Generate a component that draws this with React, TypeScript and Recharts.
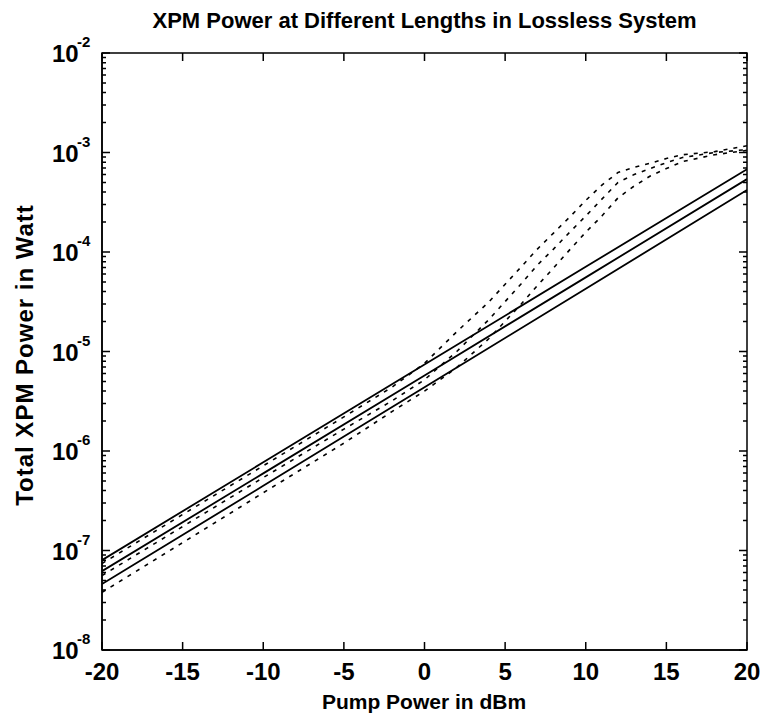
import { LineChart, Line, XAxis, YAxis, ReferenceArea } from "recharts";

// solid curves (straight on log axis), sampled every 10 dBm
const solidX = [-20, -10, 0, 10, 20];
const solidA = [8.0e-8, 7.7e-7, 7.4e-6, 7.1e-5, 6.8e-4];
const solidB = [6.2e-8, 5.96e-7, 5.75e-6, 5.56e-5, 5.4e-4];
const solidC = [4.6e-8, 4.47e-7, 4.37e-6, 4.27e-5, 4.2e-4];

// dashed curves
const dashX = [-20, -15, -10, -5, -2, 0, 2, 4, 6, 7, 8, 9, 10, 11, 12, 13, 14, 15, 16, 18, 20];
const dashA = [7.4e-8, 2.3e-7, 7.1e-7, 2.2e-6, 4.4e-6, 7.6e-6, 1.58e-5, 3.16e-5, 7.1e-5, 1.07e-4, 1.55e-4, 2.24e-4, 3.3e-4, 4.7e-4, 6.3e-4, 7.1e-4, 7.8e-4, 8.7e-4, 9.5e-4, 1.02e-3, 1.17e-3];
const dashB = [5.6e-8, 1.74e-7, 5.4e-7, 1.66e-6, 3.2e-6, 5.2e-6, 1.0e-5, 2.1e-5, 4.8e-5, 7.4e-5, 1.07e-4, 1.58e-4, 2.3e-4, 3.4e-4, 5.0e-4, 6.0e-4, 6.9e-4, 7.9e-4, 8.9e-4, 1.0e-3, 1.07e-3];
const dashC = [3.8e-8, 1.2e-7, 3.8e-7, 1.2e-6, 2.5e-6, 4.0e-6, 6.9e-6, 1.35e-5, 3.0e-5, 4.6e-5, 6.9e-5, 1.05e-4, 1.58e-4, 2.3e-4, 3.5e-4, 4.6e-4, 5.8e-4, 6.9e-4, 8.1e-4, 9.5e-4, 1.05e-3];

const xTicks = [-20, -15, -10, -5, 0, 5, 10, 15, 20];
const yMajor = [1e-8, 1e-7, 1e-6, 1e-5, 1e-4, 1e-3, 1e-2];
const yExp = ["-8", "-7", "-6", "-5", "-4", "-3", "-2"];

const title = "XPM Power at Different Lengths in Lossless System";
const xLabel = "Pump Power in dBm";
const yLabel = "Total XPM Power in Watt";

const rows = (xs: number[], ys: number[]) => xs.map((x, i) => ({ x, y: ys[i] }));

// minor log ticks 2..9 in each decade
const yTicks: number[] = [];
yMajor.forEach((m, i) => {
  yTicks.push(m);
  if (i < yMajor.length - 1) for (let k = 2; k <= 9; k++) yTicks.push(m * k);
});

const FONT = "'Liberation Sans', Arial, sans-serif";
const W = 761;
const H = 724;
const PLOT_W = 645;
const PLOT_H = 597;

const majorIndex = (v: number) => yMajor.findIndex((m) => Math.abs(v / m - 1) < 1e-6);

// ticks point inward on both sides, like a boxed matlab axis
function LeftTick(props: any) {
  const { x, y, payload } = props;
  const idx = majorIndex(payload.value);
  const major = idx >= 0;
  const len = major ? 8 : 4;
  return (
    <g>
      <path d={`M${x},${y}h${len}M${x + PLOT_W},${y}h${-len}`} stroke="#000" strokeWidth={1.5} fill="none" />
      {major && (
        <text fontFamily={FONT} fontWeight="bold" fill="#000" stroke="none">
          <tspan x={x - 50} y={y + 9} fontSize={24}>10</tspan>
          <tspan x={x - 25} y={y - 6} fontSize={15}>{yExp[idx]}</tspan>
        </text>
      )}
    </g>
  );
}

function BottomTick(props: any) {
  const { x, y, payload } = props;
  return (
    <g>
      <path d={`M${x},${y}v-8M${x},${y - PLOT_H}v8`} stroke="#000" strokeWidth={1.5} fill="none" />
      <text x={x} y={y + 30} textAnchor="middle" fontFamily={FONT} fontWeight="bold" fontSize={24} fill="#000" stroke="none">
        {String(payload.value)}
      </text>
    </g>
  );
}

const textStyle: React.CSSProperties = {
  position: "absolute",
  fontFamily: FONT,
  fontWeight: "bold",
  color: "#000",
  textAlign: "center",
  whiteSpace: "nowrap",
};

export default function App() {
  const axisLine = { stroke: "#000", strokeWidth: 1.5 };
  return (
    <div style={{ position: "absolute", left: 0, top: 0, width: W, height: H, background: "#fff", overflow: "hidden" }}>
      <div style={{ ...textStyle, left: 102, width: PLOT_W, top: 8, fontSize: 22, lineHeight: "26px" }}>{title}</div>
      <div
        style={{
          ...textStyle,
          left: 25 - 200,
          top: 355 - 14,
          width: 400,
          height: 28,
          fontSize: 24,
          lineHeight: "28px",
          letterSpacing: 1,
          transform: "rotate(-90deg)",
        }}
      >
        {yLabel}
      </div>
      <div style={{ ...textStyle, left: 424 - 200, top: 689, width: 400, fontSize: 21, lineHeight: "26px" }}>{xLabel}</div>
      <LineChart width={W} height={H} margin={{ top: 53, right: 14, bottom: 0, left: 0 }}>
        <XAxis
          dataKey="x"
          type="number"
          domain={[-20, 20]}
          ticks={xTicks}
          interval={0}
          allowDataOverflow
          height={74}
          tickSize={0}
          tickMargin={0}
          tickLine={false}
          axisLine={axisLine}
          tick={<BottomTick />}
        />
        <YAxis
          scale="log"
          type="number"
          domain={[1e-8, 1e-2]}
          ticks={yTicks}
          interval={0}
          allowDataOverflow
          width={102}
          tickSize={0}
          tickMargin={0}
          tickLine={false}
          axisLine={axisLine}
          tick={<LeftTick />}
        />
        <ReferenceArea x1={-20} x2={20} y1={1e-8} y2={1e-2} fill="none" stroke="#000" strokeWidth={1.5} fillOpacity={0} />
        <Line data={rows(solidX, solidA)} dataKey="y" stroke="#000" strokeWidth={1.8} dot={false} isAnimationActive={false} />
        <Line data={rows(solidX, solidB)} dataKey="y" stroke="#000" strokeWidth={1.8} dot={false} isAnimationActive={false} />
        <Line data={rows(solidX, solidC)} dataKey="y" stroke="#000" strokeWidth={1.8} dot={false} isAnimationActive={false} />
        <Line data={rows(dashX, dashA)} dataKey="y" stroke="#000" strokeWidth={1.6} strokeDasharray="4 6" dot={false} isAnimationActive={false} />
        <Line data={rows(dashX, dashB)} dataKey="y" stroke="#000" strokeWidth={1.6} strokeDasharray="4 6" dot={false} isAnimationActive={false} />
        <Line data={rows(dashX, dashC)} dataKey="y" stroke="#000" strokeWidth={1.6} strokeDasharray="4 6" dot={false} isAnimationActive={false} />
      </LineChart>
    </div>
  );
}
